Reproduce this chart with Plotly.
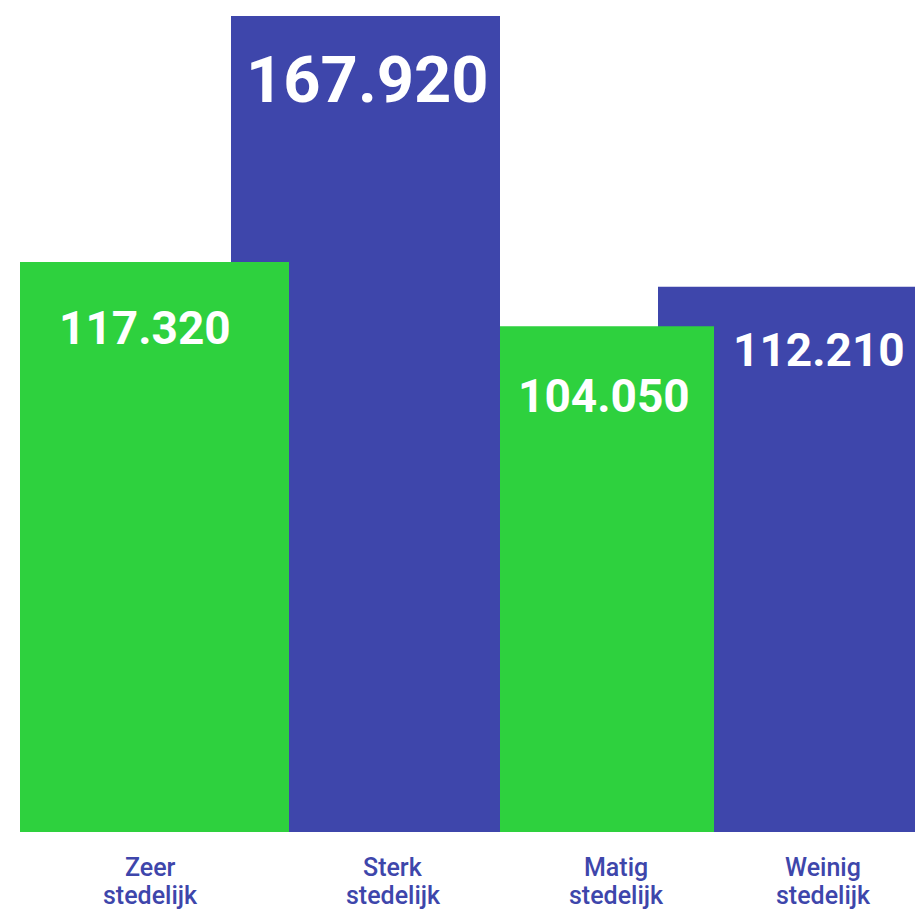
import plotly.graph_objects as go

# ---- data ----
categories = ["Zeer stedelijk", "Sterk stedelijk", "Matig stedelijk", "Weinig stedelijk"]
values = [117320, 167920, 104050, 112210]
value_labels = [f"{v:,}".replace(",", ".") for v in values]

# ---- layout / style (not data) ----
GREEN = "#2ED13E"
BLUE = "#3E46AB"
bar_colors = [GREEN, BLUE, GREEN, BLUE]
bar_centers = [154.5, 365.5, 607, 820]
bar_widths = [269, 269, 214, 324]
label_sizes = [46, 65, 46, 46]
label_xshift = [-10, 1.5, -3, -1]
label_yshift = [-66, -64, -69.5, -63]
cat_x = [150, 393, 616, 823]

fig = go.Figure()
# blue bars drawn first, green ones on top
for col in (BLUE, GREEN):
    idx = [i for i, c in enumerate(bar_colors) if c == col]
    fig.add_trace(go.Bar(
        x=[bar_centers[i] for i in idx],
        y=[values[i] for i in idx],
        width=[bar_widths[i] for i in idx],
        marker=dict(color=col, line=dict(width=0)),
        hoverinfo="skip",
        showlegend=False,
    ))

annotations = []
for i, v in enumerate(values):
    annotations.append(dict(
        x=bar_centers[i], y=v, xref="x", yref="y",
        text=value_labels[i], showarrow=False,
        xanchor="center", yanchor="middle",
        xshift=label_xshift[i], yshift=label_yshift[i],
        font=dict(family="Roboto", size=label_sizes[i], color="white", weight="bold"),
    ))
    words = categories[i].split(" ")
    for j, w in enumerate(words):
        annotations.append(dict(
            x=cat_x[i], y=0, xref="x", yref="y",
            text=w, showarrow=False,
            xanchor="center", yanchor="middle",
            yshift=-35 - 28 * j,
            font=dict(family="Roboto", size=25, color=BLUE, weight=500),
        ))

fig.update_layout(
    width=915, height=910,
    margin=dict(l=0, r=0, t=0, b=78, pad=0),
    paper_bgcolor="white", plot_bgcolor="white",
    barmode="overlay",
    xaxis=dict(range=[0, 915], visible=False, fixedrange=True),
    yaxis=dict(range=[0, 171212], visible=False, fixedrange=True),
    annotations=annotations,
)

fig.write_html("out.html", config={"displayModeBar": False},
               post_script="document.body.style.margin='0';")
